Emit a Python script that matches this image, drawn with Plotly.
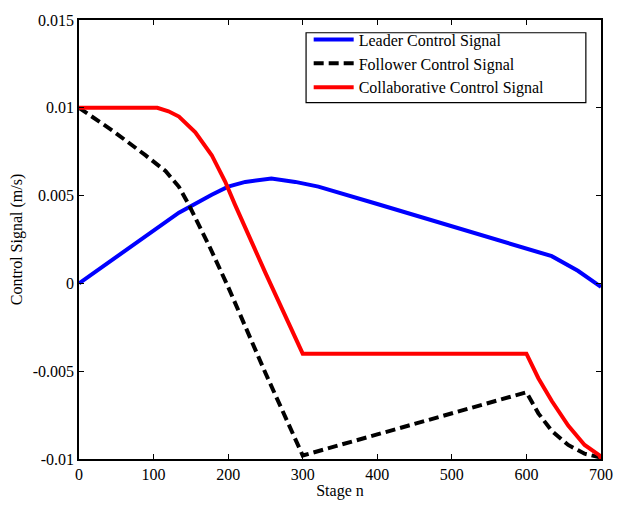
import plotly.graph_objects as go

# Stage values and control signals (m/s)
leader_stage = [0, 45, 89, 134, 178, 200, 223, 258, 290, 321, 400, 500, 561, 589, 600, 634, 669, 700]
leader_signal = [0.0, 0.00136, 0.00265, 0.00403, 0.00505, 0.00551, 0.00578, 0.00597, 0.00578, 0.00551, 0.00452, 0.00327, 0.00250, 0.00215, 0.00200, 0.00155, 0.00072, -0.00020]

follower_stage = [0, 45, 89, 116, 134, 147, 175, 200, 250, 300, 400, 500, 600, 616, 634, 656, 678, 698, 700]
follower_signal = [0.0100, 0.0087, 0.0073, 0.0064, 0.0055, 0.0045, 0.0021, -0.0002, -0.0051, -0.0098, -0.0086, -0.0074, -0.0062, -0.0074, -0.0084, -0.0092, -0.0097, -0.0099, -0.0100]

collab_stage = [0, 50, 105, 120, 134, 156, 178, 196, 209, 250, 300, 400, 500, 600, 616, 634, 656, 678, 698, 700]
collab_signal = [0.0100, 0.0100, 0.0100, 0.0098, 0.0095, 0.0086, 0.0073, 0.0058, 0.0045, 0.0006, -0.0040, -0.0040, -0.0040, -0.0040, -0.0054, -0.0067, -0.0081, -0.0092, -0.0098, -0.0100]

x_ticks = [0, 100, 200, 300, 400, 500, 600, 700]
y_ticks = [-0.01, -0.005, 0, 0.005, 0.01, 0.015]
y_tick_text = ["-0.01", "-0.005", "0", "0.005", "0.01", "0.015"]

font_family = "Liberation Serif, Times New Roman, serif"
fs = 16

fig = go.Figure()
fig.add_trace(go.Scatter(
    x=leader_stage, y=leader_signal, mode="lines",
    name="Leader Control Signal",
    line=dict(color="#0000ff", width=4),
))
fig.add_trace(go.Scatter(
    x=follower_stage, y=follower_signal, mode="lines",
    name="Follower Control Signal",
    line=dict(color="#000000", width=4, dash="10px,5px"),
))
fig.add_trace(go.Scatter(
    x=collab_stage, y=collab_signal, mode="lines",
    name="Collaborative Control Signal",
    line=dict(color="#ff0000", width=4),
))

axis_common = dict(
    showline=True, linecolor="black", linewidth=1.5, mirror="ticks",
    ticks="inside", ticklen=5, tickwidth=1, tickcolor="black",
    showgrid=False, zeroline=False,
    tickfont=dict(family=font_family, size=fs, color="black"),
)

fig.update_layout(
    width=625, height=509,
    margin=dict(l=79, r=22, t=13, b=44),
    paper_bgcolor="white", plot_bgcolor="white",
    font=dict(family=font_family, size=fs, color="black"),
    xaxis=dict(
        range=[0, 700], tickvals=x_ticks,
        title=dict(text="Stage n", font=dict(family=font_family, size=fs), standoff=3),
        **axis_common,
    ),
    yaxis=dict(
        range=[-0.01, 0.015], tickvals=y_ticks, ticktext=y_tick_text,
        title=dict(text="Control Signal (m/s)", font=dict(family=font_family, size=fs), standoff=6),
        **axis_common,
    ),
    legend=dict(
        x=0.44, y=0.994, xanchor="left", yanchor="top",
        bgcolor="rgba(0,0,0,0)", borderwidth=0,
        font=dict(family=font_family, size=fs, color="black"),
        tracegroupgap=0, itemwidth=40,
    ),
    showlegend=True,
    # legend frame
    shapes=[dict(
        type="rect", xref="paper", yref="paper",
        x0=0.435, x1=0.971, y0=0.812, y1=0.971,
        line=dict(color="black", width=1.2), fillcolor="white", layer="below",
    )],
)

fig.write_html("out.html")
